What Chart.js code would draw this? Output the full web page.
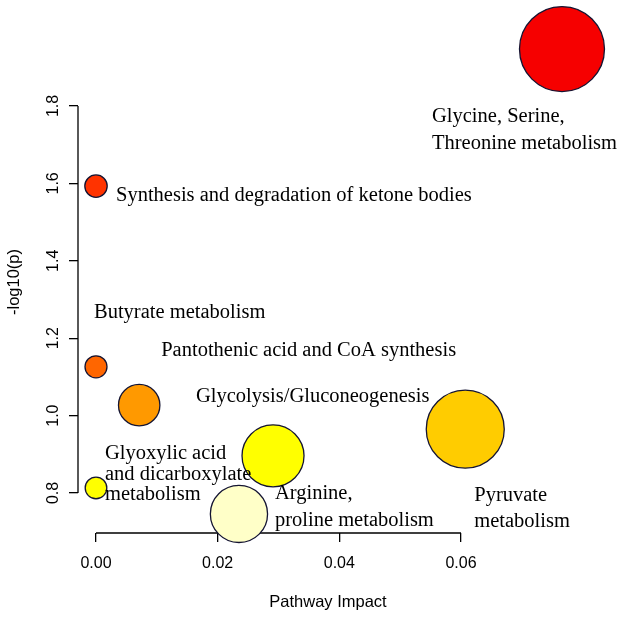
<!DOCTYPE html>
<html>
<head>
<meta charset="utf-8">
<script src="https://cdn.jsdelivr.net/npm/chart.js@4/dist/chart.umd.min.js"></script>
<style>
html,body{margin:0;padding:0;background:#fff;}
canvas{display:block;}
</style>
</head>
<body>
<canvas id="c" width="624" height="617"></canvas>
<script>
// ---- data ----
const pathways = [
  ["Glycine, Serine,", "Threonine metabolism"],
  ["Synthesis and degradation of ketone bodies"],
  ["Butyrate metabolism"],
  ["Pantothenic acid and CoA synthesis"],
  ["Glycolysis/Gluconeogenesis"],
  ["Glyoxylic acid", "and dicarboxylate", "metabolism"],
  ["Arginine,", "proline metabolism"],
  ["Pyruvate", "metabolism"]
];
const impact   = [0.0766, 0.0, 0.0, 0.0071, 0.0291, 0.0, 0.0235, 0.0607];
const logP     = [1.947, 1.593, 1.126, 1.027, 0.896, 0.813, 0.746, 0.965];
const bubbleR  = [42.5, 11.2, 11.0, 20.7, 31.0, 10.8, 28.6, 39.0];
const colors   = ["#F60000", "#FF3300", "#FF6600", "#FF9900", "#FFFF00", "#FFFF00", "#FFFFC8", "#FFCC00"];
const xTicks   = [0.00, 0.02, 0.04, 0.06];
const yTicks   = [0.8, 1.0, 1.2, 1.4, 1.6, 1.8];

// label placement (pixel offsets of first line from bubble centre, line spacing)
const labelOffsets = [
  [-130, 67, 27], [20, 10, 27], [-2, -54, 27], [22, -55, 27],
  [-77, -59, 27], [9, -34, 20.5], [36, -20, 26.5], [9, 66, 26.5]
];

const points = impact.map((x, i) => ({x: x, y: logP[i], r: bubbleR[i]}));

const axisLines = {
  id: 'axisLines',
  beforeDatasetsDraw(chart) {
    const {ctx, chartArea, scales} = chart;
    ctx.save();
    ctx.strokeStyle = '#000';
    ctx.lineWidth = 1.3;
    ctx.beginPath();
    ctx.moveTo(scales.x.getPixelForValue(xTicks[0]), chartArea.bottom);
    ctx.lineTo(scales.x.getPixelForValue(xTicks[xTicks.length-1]), chartArea.bottom);
    ctx.moveTo(chartArea.left, scales.y.getPixelForValue(yTicks[0]));
    ctx.lineTo(chartArea.left, scales.y.getPixelForValue(yTicks[yTicks.length-1]));
    ctx.stroke();
    ctx.restore();
  }
};

const pointLabels = {
  id: 'pointLabels',
  afterDatasetsDraw(chart) {
    const {ctx, scales} = chart;
    ctx.save();
    ctx.fillStyle = '#000';
    ctx.font = '20.5px "Liberation Serif", "Times New Roman", serif';
    ctx.textBaseline = 'middle';
    ctx.textAlign = 'left';
    pathways.forEach((lines, i) => {
      const px = scales.x.getPixelForValue(impact[i]);
      const py = scales.y.getPixelForValue(logP[i]);
      const [dx, dy, lh] = labelOffsets[i];
      lines.forEach((t, k) => ctx.fillText(t, px + dx, py + dy + k * lh));
    });
    ctx.restore();
  }
};

new Chart(document.getElementById('c'), {
  type: 'bubble',
  data: {
    datasets: [{
      data: points,
      backgroundColor: colors,
      borderColor: '#141432',
      borderWidth: 1.3,
      clip: false
    }]
  },
  options: {
    responsive: false,
    animation: false,
    devicePixelRatio: 1,
    layout: {autoPadding: false, padding: {top: 31, right: 46, left: 0, bottom: 0}},
    plugins: {legend: {display: false}, tooltip: {enabled: false}},
    scales: {
      x: {
        type: 'linear',
        min: -0.0029589,
        max: 0.0792329,
        afterBuildTicks: s => { s.ticks = xTicks.map(v => ({value: v})); },
        afterFit: s => { s.height = 84; },
        ticks: {
          callback: v => Number(v).toFixed(2),
          color: '#000',
          font: {family: '"Liberation Sans", Arial, sans-serif', size: 16},
          padding: 12,
          maxRotation: 0, minRotation: 0
        },
        grid: {drawOnChartArea: false, drawTicks: true, tickLength: 9, color: '#000', lineWidth: 1.3},
        border: {display: false},
        title: {
          display: true, text: 'Pathway Impact', color: '#000',
          font: {family: '"Liberation Sans", Arial, sans-serif', size: 16.5},
          padding: {top: 0, bottom: 5}
        }
      },
      y: {
        type: 'linear',
        min: 0.69664,
        max: 1.99380,
        afterBuildTicks: s => { s.ticks = yTicks.map(v => ({value: v})); },
        afterFit: s => { s.width = 78; },
        ticks: {
          callback: v => Number(v).toFixed(1),
          color: '#000',
          font: {family: '"Liberation Sans", Arial, sans-serif', size: 16},
          padding: 4,
          minRotation: 90, maxRotation: 90,
          crossAlign: 'center'
        },
        grid: {drawOnChartArea: false, drawTicks: true, tickLength: 9, color: '#000', lineWidth: 1.3},
        border: {display: false},
        title: {
          display: true, text: '-log10(p)', color: '#000',
          font: {family: '"Liberation Sans", Arial, sans-serif', size: 16.5},
          padding: {top: 5, bottom: 0}
        }
      }
    }
  },
  plugins: [axisLines, pointLabels]
});
</script>
</body>
</html>
